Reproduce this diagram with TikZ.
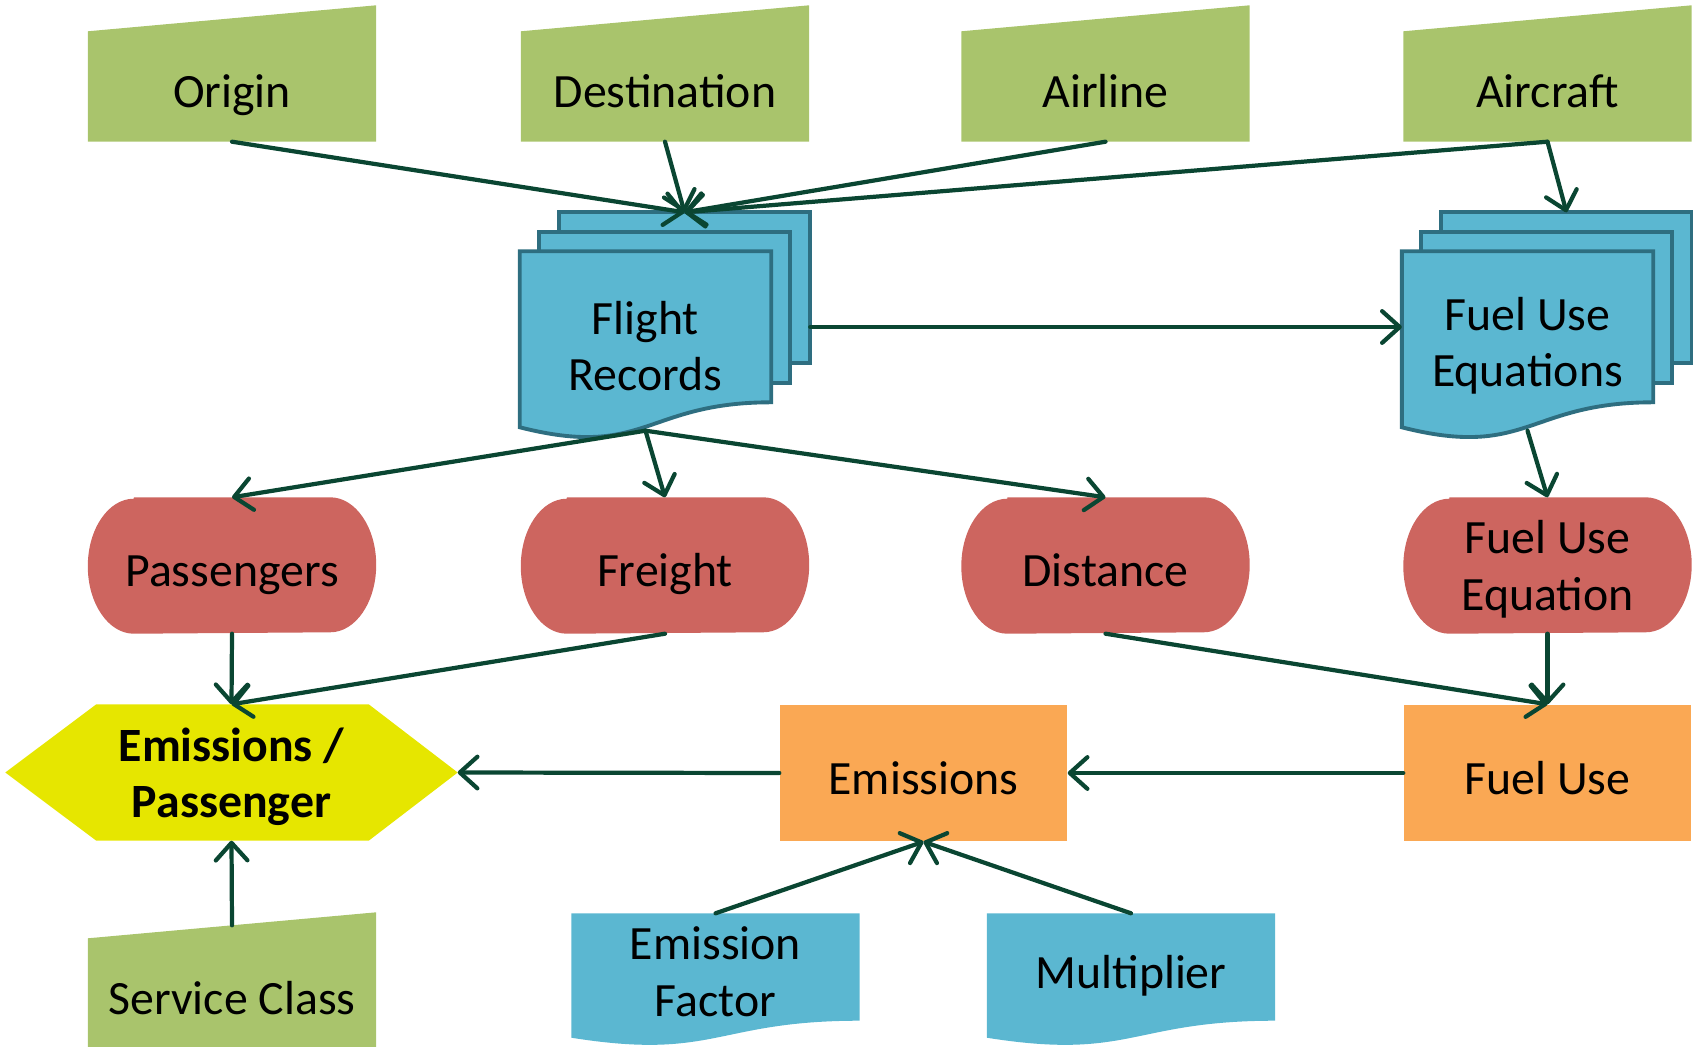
\documentclass[tikz,border=0pt]{standalone}
\usepackage{fontspec}
\setmainfont{Carlito}
\usetikzlibrary{arrows.meta, calc, backgrounds}

\definecolor{inputgreen}{RGB}{169,196,108}
\definecolor{docblue}{RGB}{91,183,209}
\definecolor{docline}{RGB}{46,110,128}
\definecolor{termred}{RGB}{205,101,95}
\definecolor{calcorange}{RGB}{250,168,84}
\definecolor{resultyellow}{RGB}{230,230,0}
\definecolor{flowgreen}{RGB}{10,70,50}

\begin{document}
\begin{tikzpicture}[x=0.1mm, y=-0.1mm,
    cellbase/.style={font=\fontsize{13.6}{16}\selectfont, align=center, inner sep=0pt, minimum width=28.7mm},
    oneline/.style={text height=12pt, text depth=0pt},
    inbox/.style={cellbase, minimum height=10.9mm},
    termbox/.style={cellbase, minimum height=13.5mm},
    procbox/.style={cellbase, minimum height=13.6mm, fill=calcorange},
    docbox/.style={cellbase, minimum width=25mm, minimum height=18.8mm},
    flowline/.style={draw=flowgreen, line width=1.2pt, line cap=round, -{Straight Barb[round, length=5pt, width=9pt]}}]
  \useasboundingbox (0,0) rectangle (1693,1047);

  % Inputs
  \node[inbox, oneline] (origin)   at (232, 86.5)    {Origin};
  \node[inbox, oneline] (dest)     at (665, 86.5)    {Destination};
  \node[inbox, oneline] (airline)  at (1105.5, 86.5) {Airline};
  \node[inbox, oneline] (aircraft) at (1547.5, 86.5) {Aircraft};
  \node[inbox, oneline] (svc)      at (232, 993.5)   {Service Class};

  % Data sets
  \node[docbox] (fr)  at (645.5, 346)  {Flight\\Records};
  \node[docbox] (fue) at (1527.5, 346) {Fuel Use\\Equations};

  % Extracted values
  \node[termbox, oneline]          (pass)    at (232, 565.5)    {Passengers};
  \node[termbox, oneline]          (freight) at (665, 565.5)    {Freight};
  \node[termbox, oneline]          (dist)    at (1105.5, 565.5) {Distance};
  \node[termbox, text depth=0pt]   (fueleq)  at (1547.5, 565.5) {Fuel Use\\Equation};

  % Calculations
  \node[procbox, oneline] (emis)    at (923.5, 773)  {Emissions};
  \node[procbox, oneline] (fueluse) at (1547.5, 773) {Fuel Use};
  \node[cellbase, minimum width=45.1mm, minimum height=13.5mm, text depth=0pt,
        font=\bfseries\fontsize{13.6}{16}\selectfont] (epp) at (231.5, 772.5) {Emissions /\\Passenger};

  % Factors
  \node[cellbase, minimum height=10.6mm, text height=28pt, text depth=0pt] (ef) at (715.5, 967) {Emission\\Factor};
  \node[cellbase, oneline, minimum height=10.6mm] (mult) at (1131, 967)  {Multiplier};

  \begin{scope}[on background layer]
    % slanted input boxes
    \foreach \n in {origin,dest,airline,aircraft,svc}
      \fill[inputgreen] (\n.south west) -- (\n.south east) -- ($(\n.north east)+(0,-26)$) -- (\n.north west) -- cycle;
    % terminators with elliptic ends
    \foreach \n in {pass,freight,dist,fueleq}
      \fill[termred] ($(\n.north west)+(46,0)$) -- ($(\n.north east)+(-46,0)$)
        arc[start angle=90, end angle=-90, x radius=4.6mm, y radius=6.75mm]
        -- ($(\n.south west)+(46,0)$)
        arc[start angle=270, end angle=90, x radius=4.6mm, y radius=6.75mm] -- cycle;
    % stacked documents
    \foreach \n in {fue,fr} {
      \foreach \s in {39,19}
        \filldraw[fill=docblue, draw=docline, line width=1.1pt] ($(\n.north west)+(\s,-\s)$) rectangle ($(\n.north east)+(\s,151-\s)$);
      \filldraw[fill=docblue, draw=docline, line width=1.1pt] (\n.north west) -- (\n.north east) -- ($(\n.north east)+(0,151)$)
        .. controls ($(\n.north)+(0,151)$) and ($(\n.north)+(0,208)$) .. ($(\n.north west)+(0,176)$) -- cycle;
    }
    % single documents
    \foreach \n in {ef,mult}
      \fill[docblue] (\n.north west) -- (\n.north east) -- (\n.south east)
        .. controls (\n.south) and ($(\n.south)+(0,40)$) .. ($(\n.south west)+(0,17)$) -- cycle;
    % result
    \fill[resultyellow] (epp.west) -- ($(epp.north west)+(91,0)$) -- ($(epp.north east)+(-89,0)$) -- (epp.east)
      -- ($(epp.south east)+(-89,0)$) -- ($(epp.south west)+(91,0)$) -- cycle;
  \end{scope}

  \coordinate (frtop)   at ($(fr.north)+(39,-39)$);
  \coordinate (fuetop)  at ($(fue.north)+(39,-39)$);
  \coordinate (frbot)   at ($(fr.south)+(0,-10)$);
  \coordinate (fuebot)  at ($(fue.south)+(0,-10)$);
  \coordinate (frside)  at ($(fr.east)+(39,-19)$);
  \coordinate (fueside) at ($(fue.west)+(0,-19)$);
  \coordinate (svctop)  at ($(svc.north)+(0,-13)$);

  % Connectors
  \foreach \n in {origin,dest,airline,aircraft}
    \draw[flowline] (\n.south) -- (frtop);
  \draw[flowline] (aircraft.south) -- (fuetop);
  \draw[flowline] (frside) -- (fueside);
  \foreach \n in {pass,freight,dist}
    \draw[flowline] (frbot) -- (\n.north);
  \draw[flowline] (fuebot) -- (fueleq.north);
  \foreach \n in {pass,freight}
    \draw[flowline] (\n.south) -- (epp.north);
  \foreach \n in {dist,fueleq}
    \draw[flowline] (\n.south) -- (fueluse.north);
  \draw[flowline] (fueluse.west) -- (emis.east);
  \draw[flowline] (emis.west) -- (epp.east);
  \foreach \n in {ef,mult}
    \draw[flowline] (\n.north) -- (emis.south);
  \draw[flowline] (svctop) -- (epp.south);
\end{tikzpicture}
\end{document}
